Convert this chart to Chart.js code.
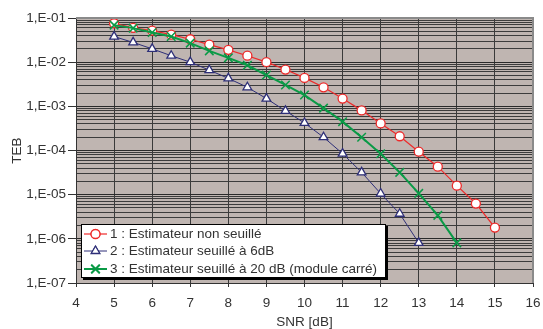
<!DOCTYPE html>
<html>
<head>
<meta charset="utf-8">
<script src="https://cdn.jsdelivr.net/npm/chart.js@4.4.0/dist/chart.umd.min.js"></script>
<style>
  html, body { margin: 0; padding: 0; background: #fff; }
  #box { width: 543px; height: 329px; }
</style>
</head>
<body>
<div id="box"><canvas id="grafico"></canvas></div>
<script>
// datos
const SNR_1 = [5, 5.5, 6, 6.5, 7, 7.5, 8, 8.5, 9, 9.5, 10, 10.5, 11, 11.5, 12, 12.5, 13, 13.5, 14, 14.5, 15];
const TEB_1 = [7.6e-2, 6.0e-2, 5.2e-2, 4.2e-2, 3.3e-2, 2.5e-2, 1.9e-2, 1.4e-2, 1.0e-2, 6.8e-3, 4.4e-3,
  2.7e-3, 1.5e-3, 8.1e-4, 4.1e-4, 2.1e-4, 9.4e-5, 4.3e-5, 1.6e-5, 6.3e-6, 1.8e-6];

const SNR_2 = [5, 5.5, 6, 6.5, 7, 7.5, 8, 8.5, 9, 9.5, 10, 10.5, 11, 11.5, 12, 12.5, 13];
const TEB_2 = [3.8e-2, 2.8e-2, 2.0e-2, 1.4e-2, 1.0e-2, 6.6e-3, 4.3e-3, 2.7e-3, 1.5e-3, 7.9e-4, 4.2e-4,
  2.0e-4, 8.5e-5, 3.2e-5, 1.06e-5, 3.7e-6, 8.1e-7];

const SNR_3 = [5, 5.5, 6, 6.5, 7, 7.5, 8, 8.5, 9, 9.5, 10, 10.5, 11, 11.5, 12, 12.5, 13, 13.5, 14];
const TEB_3 = [6.9e-2, 5.9e-2, 4.7e-2, 3.8e-2, 2.7e-2, 1.8e-2, 1.25e-2, 8.5e-3, 5.1e-3, 3.05e-3, 1.8e-3,
  9.1e-4, 4.5e-4, 2.0e-4, 8.4e-5, 3.2e-5, 1.07e-5, 3.4e-6, 8.1e-7];

const NOMBRES = [
  "1 : Estimateur non seuillé",
  "2 : Estimateur seuillé à 6dB",
  "3 : Estimateur seuillé à 20 dB (module carré)"
];
// decadas del eje y (1E-07 ... 1E-02), mas el tope 1E-01
const DECADAS = [-7, -6, -5, -4, -3, -2];
const Y_MIN = 1e-7, Y_MAX = 1e-1;
const X_MIN = 4, X_MAX = 16;
//------------------------------------//

const FUENTE = "'Liberation Sans', Arial, sans-serif";
const TEXTO = "#333";

function puntos(xs, ys) {
  return xs.map((x, i) => ({ x: x, y: ys[i] }));
}

function esDecada(v) {
  const l = Math.log10(v);
  return Math.abs(l - Math.round(l)) < 1e-6;
}

const estilos = [
  { color: "#ee2a2a", punto: "circle", radio: 4.5, ancho: 1.2, orden: 2 },
  { color: "#2e2f78", punto: "triangle", radio: 5, ancho: 1, orden: 1 },
  { color: "#0a9a46", punto: "crossRot", radio: 6, ancho: 2, orden: 0 }
];

const series = [puntos(SNR_1, TEB_1), puntos(SNR_2, TEB_2), puntos(SNR_3, TEB_3)];

const datasets = series.map((d, i) => ({
  label: NOMBRES[i],
  data: d,
  borderColor: estilos[i].color,
  borderWidth: estilos[i].ancho,
  pointStyle: estilos[i].punto,
  pointRadius: estilos[i].radio,
  pointBorderWidth: i === 2 ? 1.5 : 1.3,
  pointBackgroundColor: i === 2 ? estilos[i].color : "#ffffff",
  pointBorderColor: estilos[i].color,
  tension: 0,
  order: estilos[i].orden
}));

// fondo gris del area del grafico + borde arriba/derecha
const fondo = {
  id: "fondo",
  beforeDraw(chart) {
    const a = chart.chartArea;
    const ctx = chart.ctx;
    ctx.save();
    ctx.fillStyle = "#bfb5b1";
    ctx.fillRect(a.left, a.top, a.right - a.left, a.bottom - a.top);
    ctx.restore();
  },
  afterDatasetsDraw(chart) {
    const a = chart.chartArea;
    const ctx = chart.ctx;
    ctx.save();
    ctx.strokeStyle = "#8a8a8a";
    ctx.lineWidth = 2;
    ctx.beginPath();
    ctx.moveTo(a.left, a.top);
    ctx.lineTo(a.right, a.top);
    ctx.lineTo(a.right, a.bottom);
    ctx.stroke();
    ctx.restore();
  }
};

// leyenda dibujada a mano dentro del grafico
const leyenda = {
  id: "leyenda",
  afterDraw(chart) {
    const ctx = chart.ctx;
    const x0 = 81, y0 = 224, w = 305, h = 54;
    ctx.save();
    ctx.fillStyle = "#000";
    ctx.fillRect(x0 + 2, y0 + 2, w, h);
    ctx.fillStyle = "#fff";
    ctx.fillRect(x0, y0, w, h);
    ctx.strokeStyle = "#000";
    ctx.lineWidth = 1;
    ctx.strokeRect(x0 + 0.5, y0 + 0.5, w - 1, h - 1);
    const filas = [234, 251, 269];
    filas.forEach((fy, i) => {
      const e = estilos[i];
      ctx.strokeStyle = e.color;
      ctx.lineWidth = e.ancho;
      ctx.beginPath();
      ctx.moveTo(84, fy);
      ctx.lineTo(107, fy);
      ctx.stroke();
      Chart.helpers.drawPoint(ctx, {
        pointStyle: e.punto,
        radius: e.radio,
        borderWidth: 1.3,
        rotation: 0
      }, 95.5, fy);
      ctx.fillStyle = i === 2 ? e.color : "#fff";
      ctx.lineWidth = 1.3;
      ctx.fill();
      ctx.stroke();
      ctx.fillStyle = TEXTO;
      ctx.font = "13.5px " + FUENTE;
      ctx.textBaseline = "middle";
      ctx.fillText(NOMBRES[i], 110, fy + 0.5);
    });
    ctx.restore();
  }
};

const config = {
  type: "line",
  data: { datasets: datasets },
  options: {
    responsive: false,
    animation: false,
    layout: { padding: { top: 18, right: 10, left: 0, bottom: 0 } },
    plugins: {
      legend: { display: false },
      title: { display: false },
      tooltip: { enabled: false }
    },
    scales: {
      x: {
        type: "linear",
        position: "bottom",
        min: X_MIN,
        max: X_MAX,
        ticks: {
          stepSize: 1,
          color: TEXTO,
          font: { family: FUENTE, size: 13.5 },
          padding: 8
        },
        grid: {
          color: "#3a3a3a",
          lineWidth: 1,
          tickLength: 4,
          tickColor: "#333"
        },
        border: { color: "#333", width: 1 },
        title: {
          display: true,
          text: "SNR [dB]",
          color: TEXTO,
          font: { family: FUENTE, size: 13.5 },
          padding: { top: 0, bottom: -1 }
        },
        afterFit(scale) {
          scale.height = 46;
          scale.paddingLeft = 0;
          scale.paddingRight = 0;
        }
      },
      y: {
        type: "logarithmic",
        position: "left",
        min: Y_MIN,
        max: Y_MAX,
        // rejilla menor 1..9 en cada decada
        afterBuildTicks(scale) {
          const t = [];
          DECADAS.forEach(d => {
            for (let k = 1; k <= 9; k++) t.push({ value: k * Math.pow(10, d) });
          });
          t.push({ value: Y_MAX });
          scale.ticks = t;
        },
        ticks: {
          autoSkip: false,
          color: TEXTO,
          font: { family: FUENTE, size: 13.5 },
          padding: 2,
          callback(v) {
            if (!esDecada(v)) return "";
            const n = Math.round(Math.log10(v));
            return "1,E-0" + (-n);
          }
        },
        grid: {
          color: ctx => esDecada(ctx.tick.value) ? "#2a2a2a" : "#3c3c3c",
          lineWidth: 1,
          tickLength: 8,
          tickColor: ctx => esDecada(ctx.tick.value) ? "#333" : "rgba(0,0,0,0)"
        },
        border: { color: "#333", width: 1 },
        title: {
          display: true,
          text: "TEB",
          color: TEXTO,
          font: { family: FUENTE, size: 13.5 },
          padding: { top: 9, bottom: 0 }
        },
        afterFit(scale) { scale.width = 76; }
      }
    }
  },
  plugins: [fondo, leyenda]
};

const canvas = document.getElementById("grafico");
canvas.width = 543;
canvas.height = 329;
new Chart(canvas.getContext("2d"), config);
</script>
</body>
</html>
